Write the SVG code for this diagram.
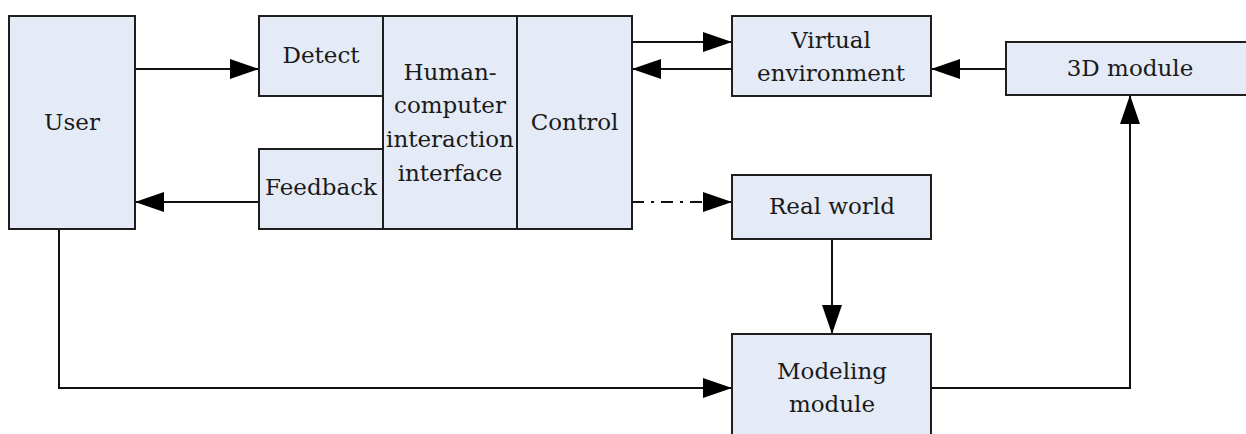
<svg xmlns="http://www.w3.org/2000/svg" width="1246" height="434" viewBox="0 0 1246 434">
<defs>
<style>
.box{fill:#e4ebf6;stroke:#1e1e1e;stroke-width:2}
.lbl{font-family:"DejaVu Serif",serif;font-size:23px;fill:#1a1a1a;text-anchor:middle}
.con{fill:none;stroke:#111;stroke-width:2}
.dd{stroke-dasharray:12 7 3 7}
</style>
<marker id="ah" viewBox="0 0 29 20" refX="29" refY="10" markerWidth="29" markerHeight="20" markerUnits="userSpaceOnUse" orient="auto">
<path d="M0,0 L29,10 L0,20 Z" fill="#000"/>
</marker>
</defs>
<rect width="1246" height="434" fill="#fff"/>
<g id="connectors">
<path class="con" d="M135,69 H259" marker-end="url(#ah)"/>
<path class="con" d="M259,202 H135" marker-end="url(#ah)"/>
<path class="con" d="M632,42 H732" marker-end="url(#ah)"/>
<path class="con" d="M732,69 H632" marker-end="url(#ah)"/>
<path class="con dd" d="M632,202 H732" marker-end="url(#ah)"/>
<path class="con" d="M1006,69 H931" marker-end="url(#ah)"/>
<path class="con" d="M832,239 V334" marker-end="url(#ah)"/>
<path class="con" d="M59,229 V388 H732" marker-end="url(#ah)"/>
<path class="con" d="M931,388 H1130 V95" marker-end="url(#ah)"/>
</g>
<g id="user"><rect class="box" x="9" y="16" width="126" height="213"/><text class="lbl" x="72" y="130">User</text></g>
<g id="detect"><rect class="box" x="259" y="16" width="124" height="80"/><text class="lbl" x="321" y="63">Detect</text></g>
<g id="feedback"><rect class="box" x="259" y="149" width="124" height="80"/><text class="lbl" x="321" y="195">Feedback</text></g>
<g id="hci"><rect class="box" x="383" y="16" width="134" height="213"/>
<text class="lbl" x="450" y="80">Human-</text><text class="lbl" x="450" y="113">computer</text><text class="lbl" x="450" y="147">interaction</text><text class="lbl" x="450" y="181">interface</text></g>
<g id="control"><rect class="box" x="517" y="16" width="115" height="213"/><text class="lbl" x="574.5" y="130">Control</text></g>
<g id="virtual"><rect class="box" x="732" y="16" width="199" height="80"/><text class="lbl" x="831" y="48">Virtual</text><text class="lbl" x="831" y="81">environment</text></g>
<g id="module3d"><rect class="box" x="1006" y="42" width="250" height="53"/><text class="lbl" x="1130" y="76">3D module</text></g>
<g id="real"><rect class="box" x="732" y="175" width="199" height="64"/><text class="lbl" x="832" y="214">Real world</text></g>
<g id="modeling"><rect class="box" x="732" y="334" width="199" height="110"/><text class="lbl" x="832" y="379">Modeling</text><text class="lbl" x="832" y="412">module</text></g>
</svg>
